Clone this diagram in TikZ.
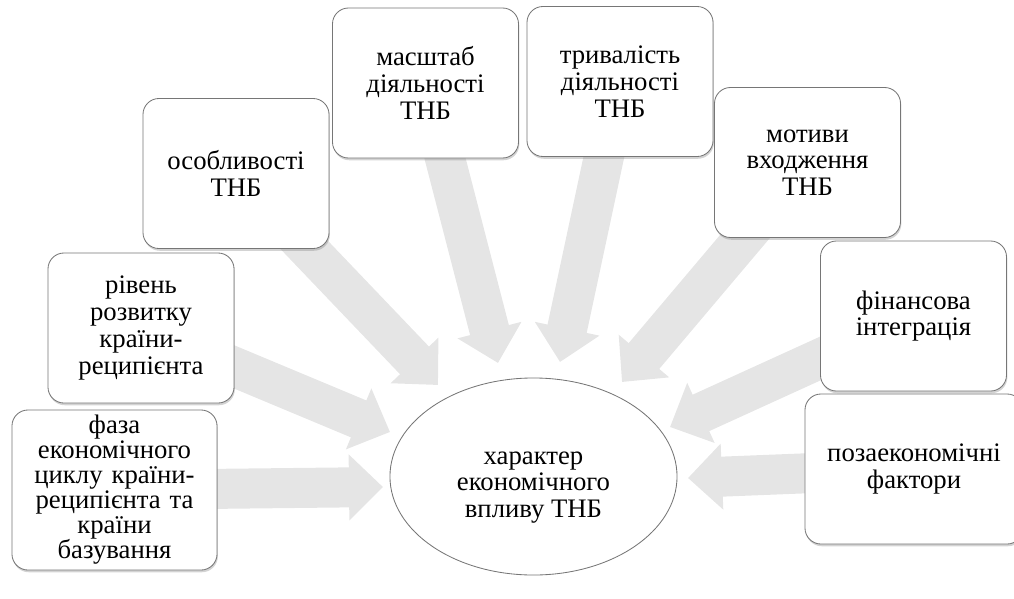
\documentclass[tikz,border=0pt]{standalone}
\usepackage{fontspec}
\setmainfont{Liberation Serif}
\usepackage{tikz}
\usetikzlibrary{shapes.geometric, arrows.meta, shadows, backgrounds}
\definecolor{boxgray}{RGB}{118,118,118}
\definecolor{arrowgray}{RGB}{229,229,229}
\tikzstyle{factor} = [rectangle, rounded corners=0.4cm, minimum width=4.65cm, minimum height=3.75cm, text width=4.4cm, align=center, draw=boxgray, line width=0.6pt, fill=white, drop shadow={shadow xshift=0.6pt, shadow yshift=-1.6pt, opacity=0.35}, font=\fontsize{19}{19}\selectfont]
\tikzstyle{result} = [ellipse, minimum width=7.175cm, minimum height=4.925cm, inner sep=0pt, draw=boxgray, line width=0.6pt, fill=white]
\tikzstyle{arrow} = [line width=1cm, draw=arrowgray, -{Triangle[length=0.85cm, width=1.6cm]}]

\begin{document}
\begin{tikzpicture}[x=0.025cm, y=-0.025cm]
\useasboundingbox (0,0) rectangle (1014,599);

% central ellipse
\node (impact) [result, label={[font=\fontsize{19}{19}\selectfont, align=center, yshift=-0.27cm]center:характер\\економічного\\впливу ТНБ}] at (533.5,476.5) {};

% factors
\node (phase) [factor, minimum width=5.125cm, minimum height=4.0cm, inner ysep=0pt, font=\fontsize{19}{17.8}\selectfont] at (114.5,490) {фаза\\економічного\\циклу країни-\\реципієнта та\\країни\\базування};
\node (level) [factor] at (141,328) {рівень\\розвитку\\країни-\\реципієнта};
\node (features) [factor] at (236,173.5) {особливості\\ТНБ};
\node (scale) [factor] at (425.5,83) {масштаб\\діяльності\\ТНБ};
\node (duration) [factor] at (620,81.5) {тривалість\\діяльності\\ТНБ};
\node (motives) [factor] at (807.5,162.5) {мотиви\\входження\\ТНБ};
\node (finance) [factor] at (913.5,316) {фінансова\\інтеграція};
\node (noneco) [factor, minimum width=5.45cm, text width=5cm] at (914,469) {позаекономічні\\фактори};

% arrow tips
\coordinate (t1) at (383,487);
\coordinate (t2) at (390,432);
\coordinate (t3) at (438,385);
\coordinate (t4) at (498,363);
\coordinate (t5) at (560,362);
\coordinate (t6) at (622,382);
\coordinate (t7) at (670,427);
\coordinate (t8) at (688,478);

\begin{pgfonlayer}{background}
\draw [arrow] (phase.center) -- (t1);
\draw [arrow] (level.center) -- (t2);
\draw [arrow] (features.center) -- (t3);
\draw [arrow] (scale.center) -- (t4);
\draw [arrow] (duration.center) -- (t5);
\draw [arrow] (motives.center) -- (t6);
\draw [arrow] (finance.center) -- (t7);
\draw [arrow] (noneco.center) -- (t8);
\end{pgfonlayer}

\end{tikzpicture}
\end{document}
